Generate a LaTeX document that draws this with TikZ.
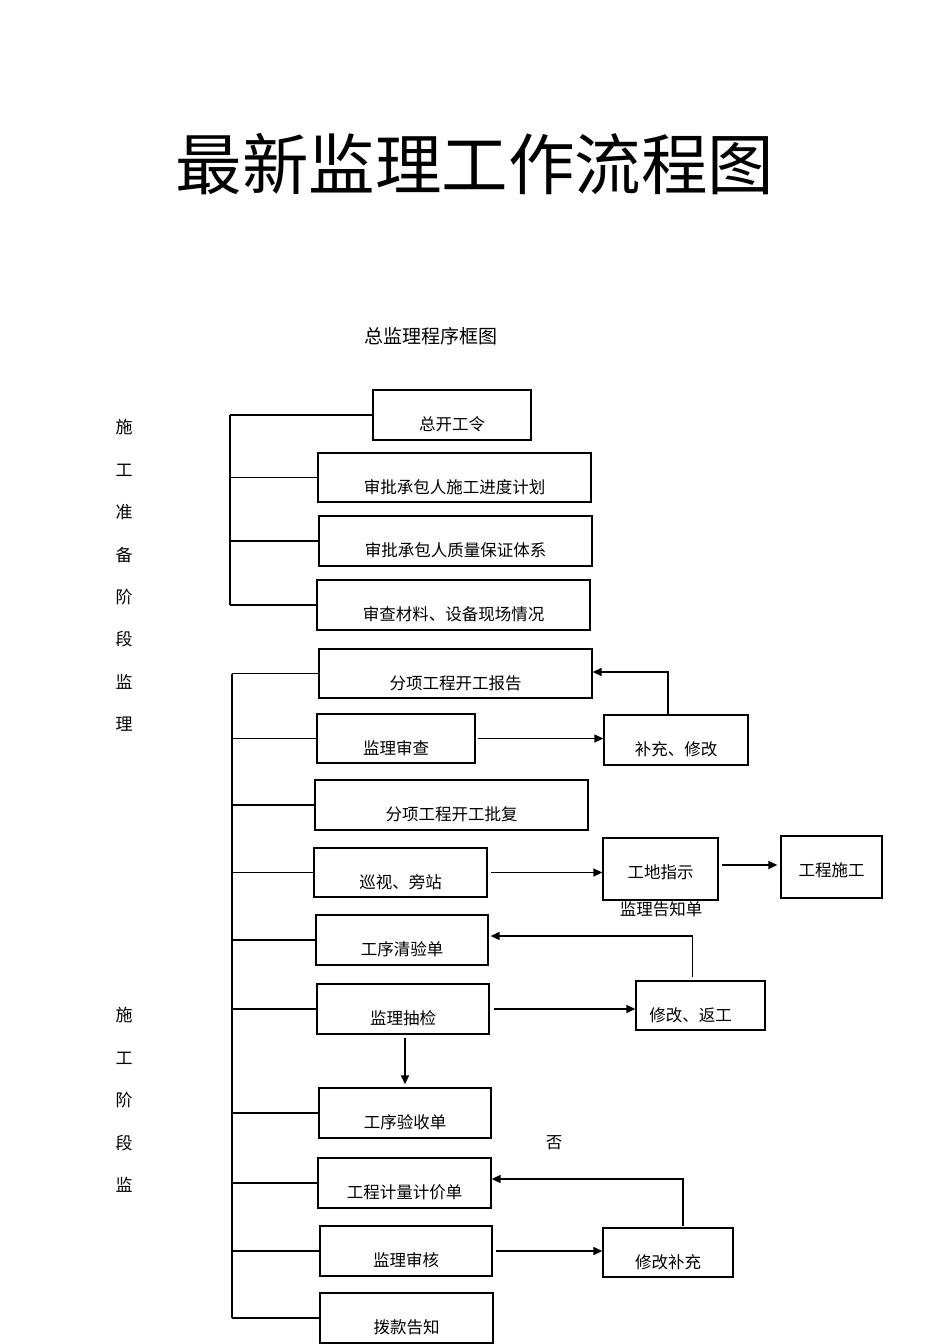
\documentclass[tikz,border=0pt]{standalone}
\usepackage{fontspec}
\setmainfont{Noto Sans CJK SC}
\usetikzlibrary{arrows.meta}
\begin{document}
\begin{tikzpicture}[x=1pt,y=-1pt,
  ln/.style={line width=1.4pt},
  arr/.style={line width=1.4pt,-{Triangle[length=9pt,width=8pt]}},
  box/.style={draw,line width=1.3pt,inner sep=0pt,font=\fontsize{16.5}{18}\selectfont,text height=31pt,text depth=0pt},
  boxc/.style={box,text height=18.6pt},
  lbl/.style={inner sep=0pt,font=\fontsize{16.5}{18}\selectfont},
  side/.style={inner sep=0pt,align=center,font=\fontsize{17}{42.4}\selectfont}]
\useasboundingbox (0,0) rectangle (950,1344);

% titles
\node[inner sep=0pt,font=\fontsize{66.5}{72}\selectfont] (title) at (475,164) {最新监理工作流程图};
\node[inner sep=0pt,font=\fontsize{19}{22}\selectfont] (sub) at (431,336) {总监理程序框图};

% side labels
\node[side] (s1) at (124,575.5) {施\\工\\准\\备\\阶\\段\\监\\理};
\node[side] (s2) at (124,1100) {施\\工\\阶\\段\\监};

% preparation stage
\node[box,minimum width=158,minimum height=50] (b1) at (452,415) {总开工令};
\node[box,minimum width=273,minimum height=49] (b2) at (454.5,477.5) {审批承包人施工进度计划};
\node[box,minimum width=273,minimum height=50] (b3) at (455.5,541) {审批承包人质量保证体系};
\node[box,minimum width=273,minimum height=50] (b4) at (453.5,605) {审查材料、设备现场情况};

% construction stage
\node[box,minimum width=273,minimum height=49] (b5) at (455.5,673.5) {分项工程开工报告};
\node[box,minimum width=158,minimum height=49] (b6) at (396,738.5) {监理审查};
\node[box,minimum width=144,minimum height=50] (r1) at (676,740) {补充、修改};
\node[box,minimum width=273,minimum height=50] (b7) at (451.5,805) {分项工程开工批复};
\node[box,minimum width=173,minimum height=49] (b8) at (400.5,872.5) {巡视、旁站};
\node[boxc,minimum width=115,minimum height=62] (gz) at (660.5,869) {工地指示};
\node[boxc,minimum width=101,minimum height=62] (gc) at (831.5,867) {工程施工};
\node[lbl] (gzl) at (661,909) {监理告知单};
\node[box,minimum width=172,minimum height=50] (b9) at (402,940) {工序清验单};
\node[box,minimum width=172,minimum height=50] (b10) at (403,1009) {监理抽检};
\node[box,minimum width=129,minimum height=49] (fx) at (700.5,1005.5) {修改、返工\hspace*{20pt}};
\node[box,minimum width=172,minimum height=50] (b11) at (405,1113) {工序验收单};
\node[lbl] (no) at (554,1143) {否};
\node[box,minimum width=173,minimum height=50] (b12) at (404.5,1183) {工程计量计价单};
\node[box,minimum width=172,minimum height=50] (b13) at (406,1251) {监理审核};
\node[box,minimum width=130,minimum height=49] (mb) at (668,1252.5) {修改补充};
\node[box,minimum width=173,minimum height=50] (b14) at (406.5,1318) {拨款告知};

% bus lines
\coordinate (busA) at (230,0);
\coordinate (busB) at (232,0);
\draw[ln] (busA |- b1.west) -- (busA |- b4.west);
\foreach \n in {b1,b2,b3,b4} \draw[ln] (busA |- \n.west) -- (\n.west);
\draw[ln] (busB |- b5.west) -- (busB |- b14.west);
\foreach \n in {b5,b6,b7,b8,b9,b10,b11,b12,b13,b14} \draw[ln] (busB |- \n.west) -- (\n.west);

% arrows
\draw[arr,shorten <=2pt] (b6.east) -- (b6.east -| r1.west);
\draw[arr] ([xshift=-8pt]r1.north) |- ([yshift=1.5pt]b5.east);
\draw[arr,shorten <=3pt] (b8.east) -- (b8.east -| gz.west);
\draw[arr,shorten <=3pt,shorten >=3pt] ([yshift=4pt]gz.east) -- ([yshift=4pt]gz.east -| gc.west);
\draw[arr] ([xshift=-8pt,yshift=3pt]fx.north) |- ([yshift=4pt,xshift=2pt]b9.east);
\draw[arr,shorten <=4pt] (b10.east) -- (b10.east -| fx.west);
\draw[arr,shorten <=3pt,shorten >=3pt] ([xshift=2pt]b10.south) -- ([xshift=2pt]b10.south |- b11.north);
\draw[arr] ([xshift=15pt,yshift=1pt]mb.north) |- ([yshift=4pt]b12.east);
\draw[arr,shorten <=3pt] (b13.east) -- (b13.east -| mb.west);
\end{tikzpicture}
\end{document}
